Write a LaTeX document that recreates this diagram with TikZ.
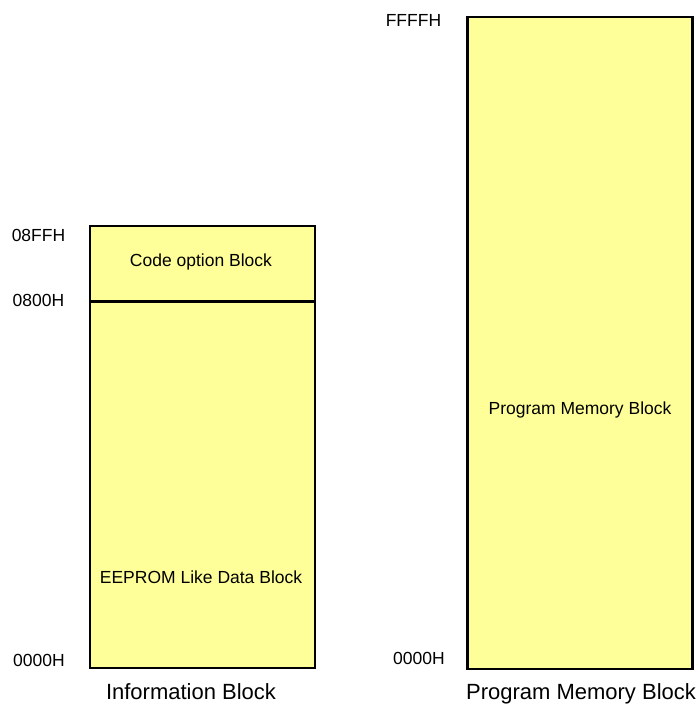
\documentclass[tikz,border=0pt]{standalone}
\usepackage{fontspec}
\setmainfont{Liberation Sans}
\definecolor{memfill}{RGB}{255,255,153}
\tikzset{
  mem/.style={draw=black, line width=2.2pt, fill=memfill, inner sep=0pt},
  addr/.style={font=\fontsize{17.5}{20}\selectfont, inner sep=0pt},
  inlabel/.style={font=\fontsize{17.5}{20}\selectfont, inner sep=0pt},
  caption/.style={font=\fontsize{22}{26}\selectfont, inner sep=0pt, anchor=base},
}
\begin{document}
\begin{tikzpicture}[x=1pt,y=-1pt]
\useasboundingbox (0,0) rectangle (700,705);
% Information block (EEPROM-like data + code option area)
\node[mem, minimum width=225pt, minimum height=442pt] (info) at (202.5,447) {};
\coordinate (divl) at (90,301.5);
\coordinate (divr) at (315,301.5);
\draw[line width=2.4pt] (divl) -- (divr);
\node[inlabel] (code) at (201,262) {Code option Block};
\node[inlabel] (eeprom) at (201,577) {EEPROM Like Data Block};
\node[addr] (a08ff) at (38.5,235) {08FFH};
\node[addr] (a0800) at (38.5,300.5) {0800H};
\node[addr] (a0000l) at (39,660.5) {0000H};
\node[caption] (infocap) at (191,699) {Information Block};
% Program memory block
\node[mem, minimum width=225pt, minimum height=652pt] (prog) at (580,343) {};
\node[inlabel] (progin) at (580,410) {Program Memory Block};
\node[addr] (affff) at (413.5,20) {FFFFH};
\node[addr] (a0000r) at (419,658) {0000H};
\node[caption] (progcap) at (581,699) {Program Memory Block};
\end{tikzpicture}
\end{document}
